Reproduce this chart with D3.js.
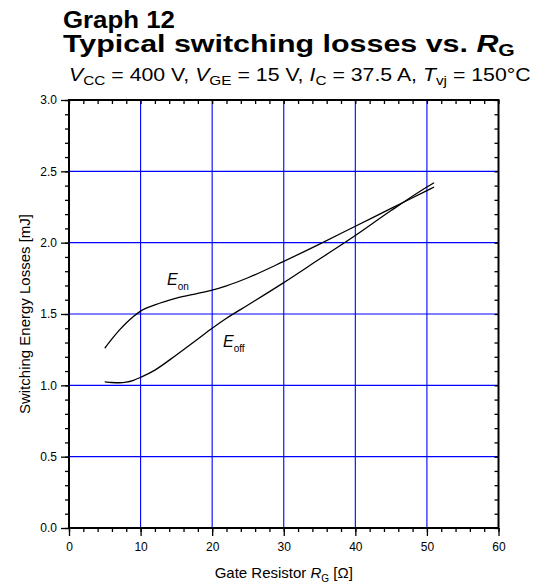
<!DOCTYPE html>
<html><head><meta charset="utf-8">
<script src="https://cdn.jsdelivr.net/npm/d3@7"></script>
<style>body{margin:0;background:#fff}text{font-family:"Liberation Sans",Arial,sans-serif}</style>
</head><body><svg id="c" width="540" height="586"></svg>
<script>
const rg   = [5, 6, 7, 8, 9, 10, 12, 15, 18, 20, 22, 25, 30, 35, 40, 45, 50, 51];
const eon  = [1.26, 1.325, 1.385, 1.437, 1.482, 1.52, 1.564, 1.612, 1.645, 1.667, 1.697, 1.754, 1.869, 1.99, 2.115, 2.24, 2.365, 2.39];
const eoff = [1.025, 1.02, 1.018, 1.022, 1.035, 1.056, 1.107, 1.213, 1.325, 1.40, 1.47, 1.563, 1.72, 1.885, 2.05, 2.225, 2.39, 2.42];
const xTicks = [0, 10, 20, 30, 40, 50, 60];
const yTicks = [0.0, 0.5, 1.0, 1.5, 2.0, 2.5, 3.0];

const svg = d3.select("#c");
const L = 69, R = 498.5, T = 100, B = 528;
const x = d3.scaleLinear().domain([0, 60]).range([L, R]);
const y = d3.scaleLinear().domain([0, 3]).range([B, T]);

// grid
svg.append("g").selectAll("line").data(xTicks.filter(d => d > 0 && d < 60)).join("line")
  .attr("x1", d => x(d)).attr("x2", d => x(d)).attr("y1", T).attr("y2", B)
  .attr("stroke", "#0000ff").attr("stroke-width", 1.1);
svg.append("g").selectAll("line").data(yTicks.filter(d => d > 0 && d < 3)).join("line")
  .attr("y1", d => y(d)).attr("y2", d => y(d)).attr("x1", L).attr("x2", R)
  .attr("stroke", "#0000ff").attr("stroke-width", 1.1);

// axes
const xMinor = d3.range(0, 61, 2);
const yMinor = d3.range(0, 31, 1).map(d => d / 10);
const fmtY = d3.format(".1f");
const gb = svg.append("g").attr("transform", `translate(0,${B})`)
  .call(d3.axisBottom(x).tickValues(xMinor).tickSize(4).tickFormat(""));
const gb2 = svg.append("g").attr("transform", `translate(0,${B})`)
  .call(d3.axisBottom(x).tickValues(xTicks).tickSize(8).tickPadding(6));
const gl = svg.append("g").attr("transform", `translate(${L},0)`)
  .call(d3.axisLeft(y).tickValues(yMinor).tickSize(4).tickFormat(""));
const gl2 = svg.append("g").attr("transform", `translate(${L},0)`)
  .call(d3.axisLeft(y).tickValues(yTicks).tickSize(8).tickPadding(4).tickFormat(fmtY));
const gt = svg.append("g").attr("transform", `translate(0,${T})`)
  .call(d3.axisBottom(x).tickValues(xMinor).tickSize(4).tickFormat(""));
const gr = svg.append("g").attr("transform", `translate(${R},0)`)
  .call(d3.axisLeft(y).tickValues(yMinor).tickSize(4).tickFormat(""));
[gb, gb2, gl, gl2, gt, gr].forEach(g => {
  g.select(".domain").remove();
  g.selectAll(".tick line").attr("stroke", "#000").attr("stroke-width", 1.3);
  g.selectAll(".tick text").attr("font-size", 12).attr("fill", "#000")
    .attr("font-family", "'Liberation Sans',Arial,sans-serif");
});
svg.append("rect").attr("x", L).attr("y", T).attr("width", R - L).attr("height", B - T)
  .attr("fill", "none").attr("stroke", "#000").attr("stroke-width", 2);

// curves
const line = d3.line().x(d => x(d[0])).y(d => y(d[1])).curve(d3.curveMonotoneX);
svg.append("path").datum(rg.map((r, i) => [r, eon[i]])).attr("d", line)
  .attr("fill", "none").attr("stroke", "#000").attr("stroke-width", 1.3);
svg.append("path").datum(rg.map((r, i) => [r, eoff[i]])).attr("d", line)
  .attr("fill", "none").attr("stroke", "#000").attr("stroke-width", 1.3);

// curve labels
function sublabel(px, py, main, sub) {
  const t = svg.append("text").attr("x", px).attr("y", py).attr("font-size", 16);
  t.append("tspan").attr("font-style", "italic").text(main);
  t.append("tspan").attr("font-size", 10).attr("dy", 5).text(sub);
}
sublabel(167, 285, "E", "on");
sublabel(223, 347, "E", "off");

// titles (stretched horizontally to the reference widths)
function fit(t, x0, y0, width) {
  const w = t.node().getComputedTextLength();
  t.attr("transform", `translate(${x0},${y0}) scale(${width / w},1)`);
}
const t1 = svg.append("text").attr("x", 0).attr("y", 0).attr("font-size", 23).attr("font-weight", "bold").text("Graph 12");
fit(t1, 63, 28, 112);
const t2 = svg.append("text").attr("x", 0).attr("y", 0).attr("font-size", 23).attr("font-weight", "bold");
t2.append("tspan").text("Typical switching losses vs. ");
t2.append("tspan").attr("font-style", "italic").text("R");
t2.append("tspan").attr("font-size", 16).attr("dy", 4).text("G");
fit(t2, 63, 52, 452);

const st = svg.append("text").attr("x", 0).attr("y", 0).attr("font-size", 18);
const parts = [["V", "CC", " = 400 V, "], ["V", "GE", " = 15 V, "], ["I", "C", " = 37.5 A, "], ["T", "vj", " = 150°C"]];
parts.forEach(p => {
  st.append("tspan").attr("font-style", "italic").attr("dy", 0).text(p[0]);
  st.append("tspan").attr("font-size", 13).attr("dy", 4).text(p[1]);
  st.append("tspan").attr("dy", -4).text(p[2]);
});
fit(st, 69, 81, 462);

// axis titles
const xt = svg.append("text").attr("x", (L + R) / 2).attr("y", 578).attr("text-anchor", "middle").attr("font-size", 15);
xt.append("tspan").text("Gate Resistor ");
xt.append("tspan").attr("font-style", "italic").text("R");
xt.append("tspan").attr("font-size", 10).attr("dy", 4).text("G");
xt.append("tspan").attr("dy", -4).text(" [Ω]");

svg.append("text").attr("transform", `translate(30,${(T + B) / 2}) rotate(-90)`)
  .attr("text-anchor", "middle").attr("font-size", 15).text("Switching Energy Losses [mJ]");
</script></body></html>
